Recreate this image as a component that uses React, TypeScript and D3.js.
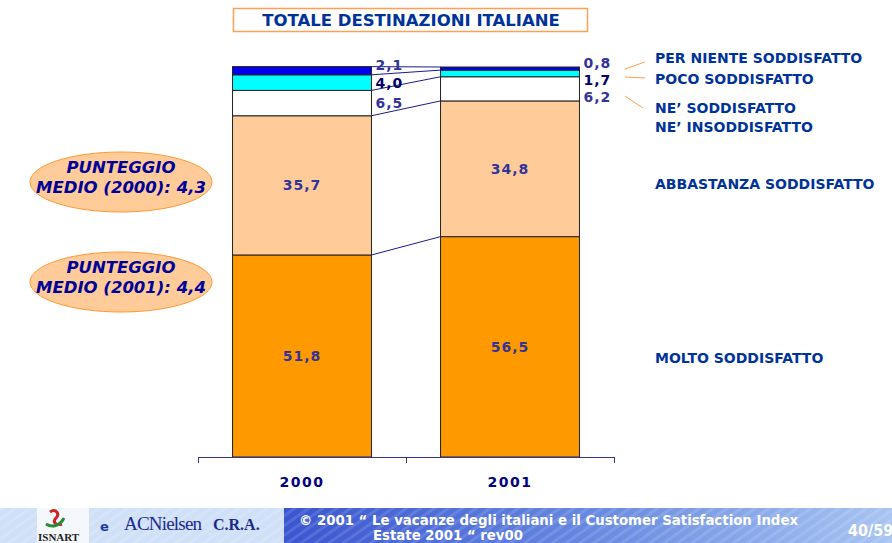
import React from "react";
import * as d3 from "d3";

const years = ["2000", "2001"];
const seriesKeys = ["molto", "abbastanza", "ne", "poco", "perniente"];
const molto = [51.8, 56.5];
const abbastanza = [35.7, 34.8];
const neNe = [6.5, 6.2];
const poco = [4.0, 1.7];
const perNiente = [2.1, 0.8];
const seriesColors = ["#FF9900", "#FFCC99", "#FFFFFF", "#00FFFF", "#0000EE"];
const legendLabels = [
  ["MOLTO SODDISFATTO"],
  ["ABBASTANZA SODDISFATTO"],
  ["NE\u2019 SODDISFATTO", "NE\u2019 INSODDISFATTO"],
  ["POCO SODDISFATTO"],
  ["PER NIENTE SODDISFATTO"],
];
const scoreLabels = ["MEDIO (2000): 4,3", "MEDIO (2001): 4,4"];
const title = "TOTALE DESTINAZIONI ITALIANE";

const fmt = (v: number) => v.toFixed(1).replace(".", ",");

export default function App() {
  const W = 892, H = 543;
  const rows = years.map((y, i) => ({
    year: y,
    molto: molto[i],
    abbastanza: abbastanza[i],
    ne: neNe[i],
    poco: poco[i],
    perniente: perNiente[i],
  }));
  const stack = d3.stack<any>().keys(seriesKeys)(rows);
  const x = d3.scaleBand().domain(years).range([198, 614]).paddingInner(0.332).paddingOuter(0.166);
  const y = d3.scaleLinear().domain([0, 100]).range([457, 67]);
  const bw = x.bandwidth();
  const navy = "#1a1a8c";
  const labelColor = "#333399";
  const legendColor = "#003399";

  const outside: { x: number; y: number; t: string; c: string }[] = [];
  years.forEach((yr, i) => {
    let prev = -Infinity;
    const idxs = [4, 3, 2];
    idxs.forEach((k, j) => {
      const s = stack[k][i];
      const mid = (y(s[0]) + y(s[1])) / 2;
      const ty = j === 0 ? mid - 6 : Math.max(mid, prev + 17);
      prev = ty;
      outside.push({
        x: (x(yr) as number) + bw + 4,
        y: ty,
        t: fmt(s[1] - s[0]),
        c: k === 3 ? "#000066" : labelColor,
      });
    });
  });

  const legendY = [358, 184, 108, 79, 58];

  const x0 = (x("2000") as number) + bw;
  const x1 = x("2001") as number;

  return (
    <svg width={W} height={H} style={{ position: "absolute", left: 0, top: 0 }} fontFamily="DejaVu Sans">
      <defs>
        <linearGradient id="foot" x1="0" x2="1" y1="0" y2="0">
          <stop offset="0" stopColor="#3a55d0" />
          <stop offset="0.5" stopColor="#6688e0" />
          <stop offset="1" stopColor="#a8c4f2" />
        </linearGradient>
        <pattern id="stripes" width="8" height="8" patternUnits="userSpaceOnUse" patternTransform="rotate(-35)">
          <rect width="8" height="3" fill="rgba(255,255,255,0.12)" />
        </pattern>
      </defs>
      <rect width={W} height={H} fill="#fff" />

      {/* title */}
      <rect x={233.5} y={8.5} width={354} height={23} fill="#fff" stroke="#FFA050" strokeWidth={1.5} />
      <text x={411} y={26} textAnchor="middle" fontWeight="bold" fontSize={16.5} fill={legendColor}>{title}</text>

      {/* bars */}
      {stack.map((s, k) =>
        s.map((d, i) => (
          <rect
            key={k + "-" + i}
            x={x(years[i])}
            y={y(d[1])}
            width={bw}
            height={y(d[0]) - y(d[1])}
            fill={seriesColors[k]}
            stroke="#222"
            strokeWidth={1}
          />
        ))
      )}

      {/* series lines */}
      {stack.map((s, k) => (
        <line key={"sl" + k} x1={x0} x2={x1} y1={y(s[0][1])} y2={y(s[1][1])} stroke={navy} strokeWidth={1} />
      ))}

      {/* inside labels */}
      {[0, 1].map((k) =>
        stack[k].map((d, i) => (
          <text
            key={"il" + k + i}
            x={(x(years[i]) as number) + bw / 2}
            y={(y(d[0]) + y(d[1])) / 2 + 5}
            textAnchor="middle"
            fontWeight="bold"
            fontSize={14}
            letterSpacing={1}
            fill={labelColor}
          >
            {fmt(d[1] - d[0])}
          </text>
        ))
      )}

      {/* outside labels */}
      {outside.map((o, i) => (
        <text key={"ol" + i} x={o.x} y={o.y + 5} fontWeight="bold" fontSize={14} letterSpacing={1} fill={o.c}>
          {o.t}
        </text>
      ))}

      {/* axis */}
      <line x1={198} x2={614} y1={457.5} y2={457.5} stroke="#333399" strokeWidth={1} />
      {[198, 406, 614].map((tx) => (
        <line key={tx} x1={tx + 0.5} x2={tx + 0.5} y1={457} y2={463} stroke="#333399" />
      ))}
      {years.map((yr) => (
        <text key={yr} x={(x(yr) as number) + bw / 2} y={487} textAnchor="middle" fontWeight="bold" fontSize={14} letterSpacing={1.5} fill="#000080">
          {yr}
        </text>
      ))}

      {/* legend leaders */}
      <line x1={625} y1={69} x2={645} y2={62} stroke="#FFA050" />
      <line x1={625} y1={77} x2={645} y2={78} stroke="#FFA050" />
      <line x1={625} y1={96} x2={643} y2={108} stroke="#FFA050" />

      {/* legend */}
      {legendLabels.map((lines, k) =>
        lines.map((t, j) => (
          <text key={"lg" + k + j} x={655} y={legendY[k] + 5 + j * 19} fontWeight="bold" fontSize={14} fill={legendColor}>
            {t}
          </text>
        ))
      )}

      {/* score ellipses */}
      {scoreLabels.map((t, i) => {
        const cy = 182 + i * 100;
        return (
          <g key={"e" + i}>
            <ellipse cx={121} cy={cy} rx={91} ry={30} fill="#FFCC99" stroke="#FF9933" strokeWidth={1} />
            <text x={121} y={cy - 9} textAnchor="middle" fontWeight="bold" fontStyle="italic" fontSize={16.5} fill="#000099">PUNTEGGIO</text>
            <text x={121} y={cy + 11} textAnchor="middle" fontWeight="bold" fontStyle="italic" fontSize={16.5} fill="#000099">{t}</text>
          </g>
        );
      })}

      {/* footer */}
      <rect x={0} y={508} width={284} height={35} fill="#cfe0f7" />
      <rect x={0} y={508} width={284} height={35} fill="url(#stripes)" />
      <rect x={37} y={508} width={52} height={35} fill="#f4f8fd" />
      <path d="M50,512 c6,-4 10,2 6,6 c-4,4 0,8 6,6" fill="none" stroke="#cc2222" strokeWidth={3} />
      <path d="M46,524 c6,4 14,2 18,-6" fill="none" stroke="#2a8a3a" strokeWidth={3} />
      <text x={38} y={541} fontFamily="Liberation Serif" fontWeight="bold" fontSize={11} fill="#222">ISNART</text>
      <text x={100} y={531} fontWeight="bold" fontSize={13} fill="#1a3a9a">e</text>
      <text x={124} y={530} fontFamily="Liberation Serif" fontSize={19} fill="#1a2a8a" letterSpacing={-0.8}>ACNielsen</text>
      <text x={213} y={530} fontFamily="Liberation Serif" fontWeight="bold" fontSize={16} fill="#1a2a8a">C.R.A.</text>
      <rect x={284} y={508} width={608} height={35} fill="url(#foot)" />
      <rect x={284} y={508} width={608} height={35} fill="url(#stripes)" />
      <text x={299} y={525} fontFamily="DejaVu Sans Condensed" fontWeight="bold" fontSize={14} fill="#fff" textLength={499} lengthAdjust="spacingAndGlyphs">
        © 2001 “ Le vacanze degli italiani e il Customer Satisfaction Index
      </text>
      <text x={373} y={540} fontFamily="DejaVu Sans Condensed" fontWeight="bold" fontSize={14} fill="#fff" textLength={150} lengthAdjust="spacingAndGlyphs">
        Estate 2001 “ rev00
      </text>
      <text x={848} y={536} fontFamily="DejaVu Sans Condensed" fontWeight="bold" fontSize={16} fill="#fff">40/59</text>
    </svg>
  );
}
